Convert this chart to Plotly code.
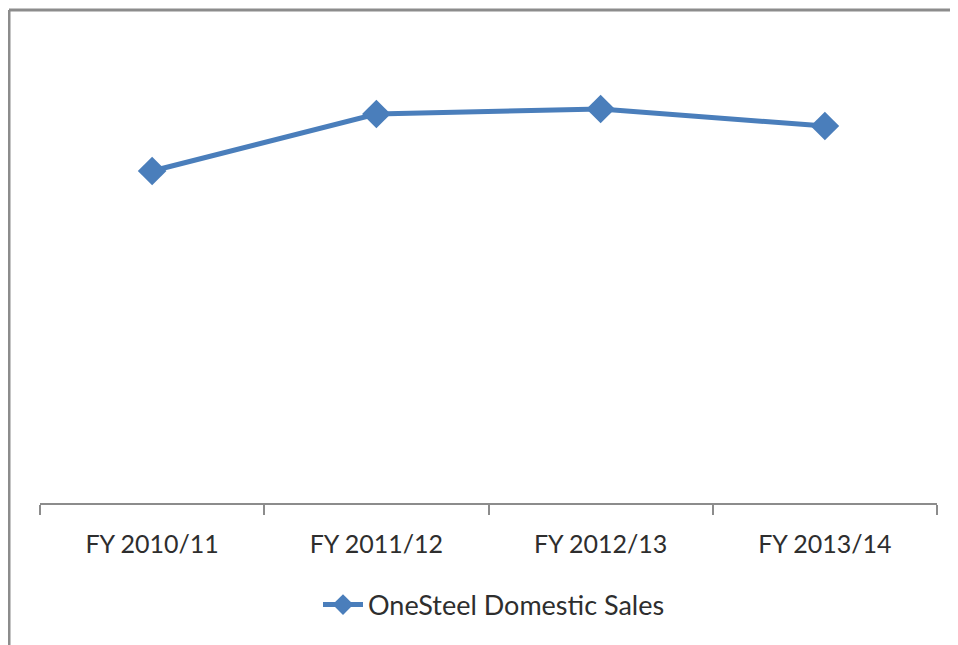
import plotly.graph_objects as go

categories = ["FY 2010/11", "FY 2011/12", "FY 2012/13", "FY 2013/14"]
sales = [1660, 1945, 1970, 1885]
series_name = "OneSteel Domestic Sales"

W, H = 958, 645
OFF = 8  # page body margin offset
L, T = 40 - OFF, 23 - OFF
R = W - (937 - OFF)
B = H - (503 - OFF)

fig = go.Figure()
fig.add_trace(go.Scatter(
    x=categories, y=sales, name=series_name, mode="lines+markers",
    line=dict(color="#4A7EBB", width=5),
    marker=dict(symbol="diamond", size=22, color="#4A7EBB"),
    showlegend=True,
))

pw = W - L - R
ph = H - T - B
def px(x):
    return (x - OFF - L) / pw
def py(y):
    return (H - B - (y - OFF)) / ph

border = dict(color="#8C8C8C", width=3)
shapes = [
    dict(type="line", xref="paper", yref="paper", x0=px(9), x1=px(970), y0=py(10), y1=py(10), line=border),
    dict(type="line", xref="paper", yref="paper", x0=px(9), x1=px(9), y0=py(10), y1=py(660), line=border),
]

fig.update_layout(
    width=W, height=H,
    margin=dict(l=L, r=R, t=T, b=B),
    paper_bgcolor="white", plot_bgcolor="white",
    font=dict(family="Lato, 'Open Sans', sans-serif", size=25, color="#2E2E2E"),
    xaxis=dict(
        type="category", range=[-0.5, 3.5], tickson="boundaries",
        ticks="outside", ticklen=10, tickwidth=1.5, tickcolor="#8C8C8C",
        showline=True, linecolor="#8C8C8C", linewidth=1.5,
        showgrid=False, zeroline=False, ticklabelstandoff=18,
        tickfont=dict(size=25, color="#2E2E2E"),
    ),
    yaxis=dict(range=[0, 2400], visible=False, showgrid=False, zeroline=False),
    showlegend=True,
    legend=dict(
        orientation="h", x=px(494), xanchor="center", y=py(605), yanchor="middle",
        font=dict(size=27, color="#2E2E2E"), itemwidth=40,
    ),
    shapes=shapes,
)

fig.write_html("out.html")
